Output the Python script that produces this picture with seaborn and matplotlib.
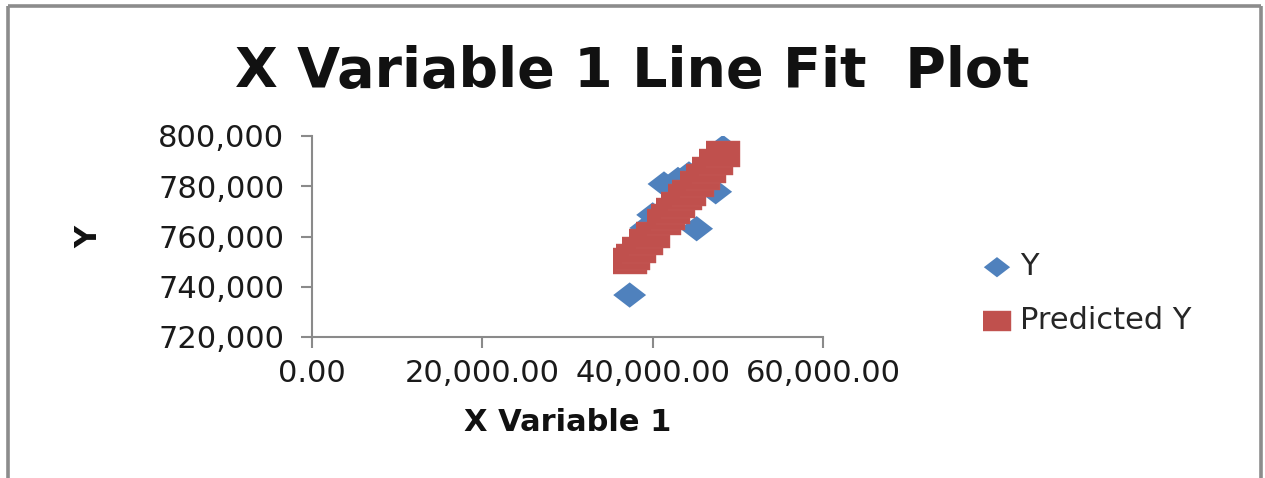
import matplotlib
matplotlib.use("Agg")
import matplotlib.pyplot as plt
from matplotlib.lines import Line2D
from matplotlib.ticker import FuncFormatter, FixedLocator
import pandas as pd
import seaborn as sns

# Observations of the regression: X variable, observed Y and fitted Y
x_values = [37300, 37700, 38400, 39200, 40000, 41330, 41800, 42400,
            42970, 43800, 44260, 45160, 45900, 46600, 47400, 48250]
y_values = [736700, 752000, 755000, 763400, 768600, 780900, 768500, 770500,
            782700, 775000, 784900, 763100, 784500, 786000, 777800, 795400]
predicted_y = [750250, 751810, 754540, 757660, 760780, 765970, 767800, 770140,
               772360, 775600, 777390, 780900, 783790, 786520, 789640, 792960]

series_names = ["Y", "Predicted Y"]
x_ticks = [0, 20000, 40000, 60000]
y_ticks = [720000, 740000, 760000, 780000, 800000]

sns.set_style("white")
plt.rcParams["font.family"] = ["DejaVu Sans"]

W, H = 1265, 478
fig = plt.figure(figsize=(W / 100, H / 100), dpi=100)
ax = fig.add_axes([312 / W, 1 - 337 / H, (823 - 312) / W, (337 - 136) / H])

# Wide diamond and wide square markers
diamond = [(-1.3, 0), (0, 1), (1.3, 0), (0, -1)]
square = [(-1.3, -1), (1.3, -1), (1.3, 1), (-1.3, 1)]

df = pd.DataFrame({"x": x_values, "y": y_values, "pred": predicted_y})
sns.scatterplot(data=df, x="x", y="y", marker=diamond, s=560,
                color="#4F81BD", edgecolor="none", linewidth=0,
                label=series_names[0], ax=ax, zorder=3)
sns.scatterplot(data=df, x="x", y="pred", marker=square, s=600,
                color="#C0504D", edgecolor="#C55A57", linewidth=0.3,
                label=series_names[1], ax=ax, zorder=4)

ax.set_xlim(x_ticks[0], x_ticks[-1])
ax.set_ylim(y_ticks[0], y_ticks[-1])
ax.xaxis.set_major_locator(FixedLocator(x_ticks))
ax.yaxis.set_major_locator(FixedLocator(y_ticks))
ax.xaxis.set_major_formatter(FuncFormatter(lambda v, p: f"{v:,.2f}"))
ax.yaxis.set_major_formatter(FuncFormatter(lambda v, p: f"{v:,.0f}"))

axis_grey = "#8a8a8a"
for side in ["top", "right"]:
    ax.spines[side].set_visible(False)
for side in ["left", "bottom"]:
    ax.spines[side].set_color(axis_grey)
    ax.spines[side].set_linewidth(1.5)
ax.tick_params(axis="both", which="major", bottom=True, left=True,
               direction="out", length=8, width=1.5,
               color=axis_grey, labelsize=22, labelcolor="#1a1a1a")
ax.tick_params(axis="x", pad=8)
ax.tick_params(axis="y", pad=12)

ax.set_xlabel("X Variable 1", fontsize=22, fontweight="bold", color="#111111")
ax.xaxis.set_label_coords(0.5, (337 - 408) / 201)
ax.xaxis.label.set_va("top")
ax.set_ylabel("Y", fontsize=22, fontweight="bold", color="#111111")
ax.yaxis.set_label_coords((103 - 312) / 511, 0.5)

fig.text(0.5, 1 - 87 / H, "X Variable 1 Line Fit  Plot", ha="center",
         va="baseline", fontsize=40, fontweight="bold", color="#111111")

handles, labels = ax.get_legend_handles_labels()
if ax.get_legend() is not None:
    ax.get_legend().remove()
fig.legend(handles, labels, loc="upper left",
           bbox_to_anchor=(971 / W, 1 - 240 / H), frameon=False,
           fontsize=22, markerscale=0.8, handlelength=0.9,
           handletextpad=0.3, labelspacing=0.8, borderaxespad=0)

# Outer chart frame (left, top and right edges)
frame = dict(color="#8c8c8c", linewidth=2.6, transform=fig.transFigure,
             solid_capstyle="butt")
fig.add_artist(Line2D([8 / W, 8 / W], [0, 1 - 6 / H], **frame))
fig.add_artist(Line2D([8 / W, 1261 / W], [1 - 6 / H, 1 - 6 / H], **frame))
fig.add_artist(Line2D([1261 / W, 1261 / W], [0, 1 - 6 / H], **frame))

fig.savefig("out.png", dpi=100, facecolor="white")
